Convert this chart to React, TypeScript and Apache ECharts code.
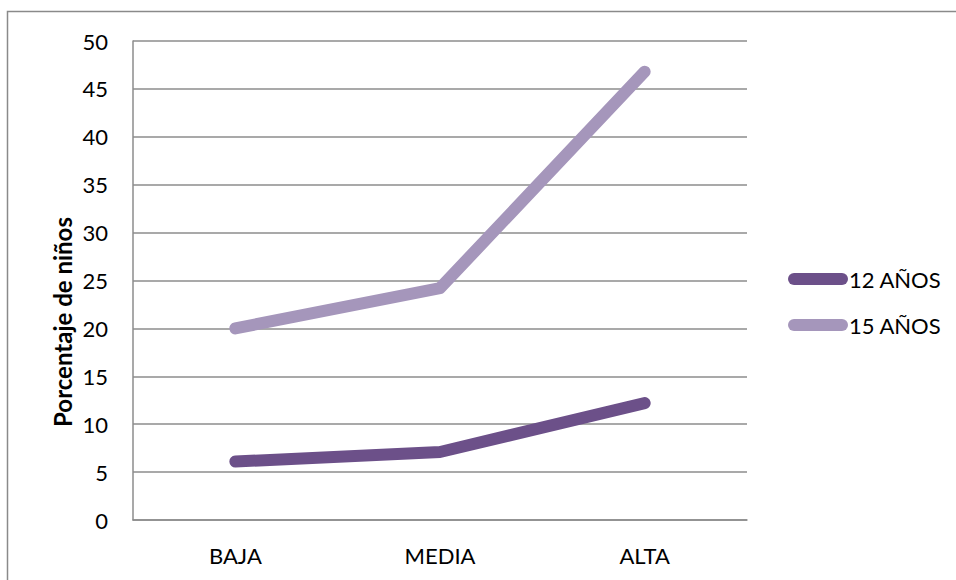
import React, { useEffect, useRef } from "react";
import * as echarts from "echarts";

const categories = ["BAJA", "MEDIA", "ALTA"];
const seriesNames = ["12 AÑOS", "15 AÑOS"];
const values12 = [6.1, 7.1, 12.2];
const values15 = [20.0, 24.2, 46.8];
const yTicks = { min: 0, max: 50, interval: 5 };
const yTitle = "Porcentaje de niños";

const FONT = "Lato, 'Open Sans', sans-serif";
const DARK = "#6c5089";
const LIGHT = "#a596bb";
const GRID = "#8c8c8c";
const CAPSULE = "path://M6,0 H54 A6,6 0 0 1 54,12 H6 A6,6 0 0 1 6,0 Z";

export default function App() {
  const ref = useRef<HTMLDivElement>(null);

  useEffect(() => {
    if (!ref.current) return;
    const chart = echarts.init(ref.current, undefined, { renderer: "svg" });
    chart.setOption({
      animation: false,
      backgroundColor: "#ffffff",
      graphic: [
        {
          type: "rect",
          shape: { x: 7.5, y: 11.5, width: 1000, height: 1000 },
          style: { fill: "none", stroke: "#8a8a8a", lineWidth: 1.5 },
          silent: true,
        },
        {
          type: "text",
          x: 62,
          y: 322,
          rotation: Math.PI / 2,
          style: {
            text: yTitle,
            align: "center",
            verticalAlign: "middle",
            fontFamily: FONT,
            fontSize: 24,
            fontWeight: "bold",
            fill: "#000",
          },
          silent: true,
        },
      ],
      grid: { left: 133, right: 209, top: 41, bottom: 60 },
      legend: {
        orient: "vertical",
        left: 783,
        top: 263,
        itemWidth: 60,
        itemHeight: 12,
        itemGap: 24,
        textStyle: { fontFamily: FONT, fontSize: 22, color: "#000", padding: [0, 0, 0, -4] },
        data: [
          { name: seriesNames[0], icon: CAPSULE, itemStyle: { color: DARK } },
          { name: seriesNames[1], icon: CAPSULE, itemStyle: { color: LIGHT } },
        ],
      },
      xAxis: {
        type: "category",
        data: categories,
        boundaryGap: true,
        axisLine: { show: true, lineStyle: { color: GRID, width: 1.5 } },
        axisTick: { show: false },
        axisLabel: { fontFamily: FONT, fontSize: 22, color: "#000", margin: 24 },
      },
      yAxis: {
        type: "value",
        min: yTicks.min,
        max: yTicks.max,
        interval: yTicks.interval,
        axisLine: { show: true, lineStyle: { color: GRID, width: 1.5 } },
        axisTick: { show: false },
        splitLine: { show: true, lineStyle: { color: GRID, width: 1.5 } },
        axisLabel: { fontFamily: FONT, fontSize: 22, color: "#000", margin: 25 },
      },
      series: [
        {
          name: seriesNames[0],
          type: "line",
          data: values12,
          showSymbol: false,
          color: DARK,
          lineStyle: { color: DARK, width: 12, cap: "round", join: "round" },
        },
        {
          name: seriesNames[1],
          type: "line",
          data: values15,
          showSymbol: false,
          color: LIGHT,
          lineStyle: { color: LIGHT, width: 12, cap: "round", join: "round" },
        },
      ],
    });
    return () => chart.dispose();
  }, []);

  return (
    <div
      ref={ref}
      style={{ position: "fixed", left: 0, top: 0, width: 956, height: 580 }}
    />
  );
}
